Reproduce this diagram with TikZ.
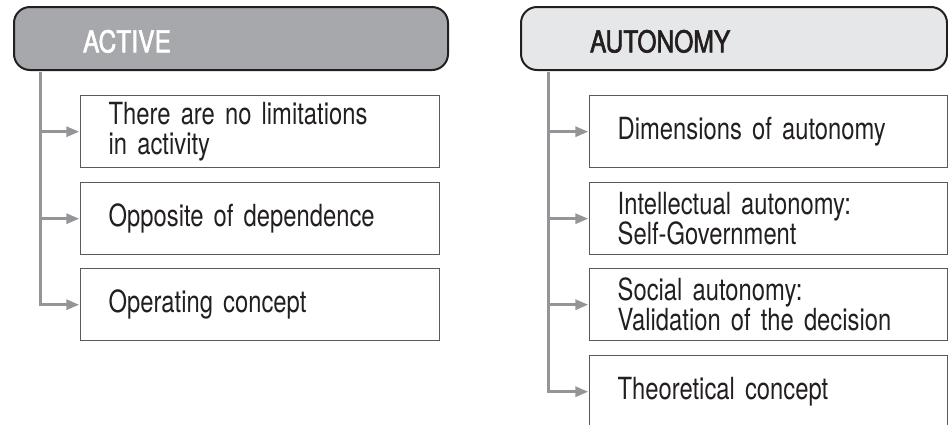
\documentclass[tikz,border=0pt]{standalone}
\usepackage{fontspec}
\setmainfont{TeX Gyre Heros}[FakeStretch=0.78]
\newfontfamily\hdrfont{TeX Gyre Heros}[FakeStretch=0.82,FakeBold=2]
\usetikzlibrary{arrows.meta}

\definecolor{hdrdark}{HTML}{A7A8AB}
\definecolor{hdrlight}{HTML}{E6E7E8}
\definecolor{linegray}{HTML}{939598}
\definecolor{boxline}{HTML}{58595B}
\definecolor{txt}{HTML}{231F20}

\tikzset{
  header/.style={draw=txt, line width=2pt, rounded corners=16pt, anchor=base west,
    inner xsep=69pt, inner ysep=0pt, text height=45.3pt, text depth=17.7pt,
    align=left, font=\hdrfont\fontsize{30}{30}\selectfont},
  item/.style={draw=boxline, line width=1.4pt, anchor=north west, align=left,
    inner xsep=28pt, inner ysep=0pt, minimum height=72pt, text=txt,
    font=\fontsize{30.5}{30}\selectfont},
  link/.style={draw=linegray, line width=3pt},
  tip/.style={link, -{Triangle[length=13pt, width=10pt]}, shorten >=0.7pt}
}

\begin{document}
\begin{tikzpicture}[x=1pt, y=-1pt]
\useasboundingbox (0,0) rectangle (948,424);
% headers
\node[header, fill=hdrdark, text=white, text width=296pt] (act) at (13,52.3) {ACTIVE};
\node[header, fill=hdrlight, text=txt, text width=288pt] (aut) at (520,52.3) {AUTONOMY};
% left column
\node[item, text width=303pt] (a1) at (80,95) {There are no limitations\\in activity};
\node[item, text width=303pt] (a2) at (80,182) {Opposite of dependence};
\node[item, text width=303pt] (a3) at (80,268) {Operating concept};
% right column
\node[item, text width=302pt] (b1) at (589,95) {Dimensions of autonomy};
\node[item, text width=302pt] (b2) at (589,182) {Intellectual autonomy:\\Self-Government};
\node[item, text width=302pt] (b3) at (589,268) {Social autonomy:\\Validation of the decision};
\node[item, text width=302pt] (b4) at (589,355) {Theoretical concept};
% connectors
\coordinate (ta) at ([xshift=27pt, yshift=-1pt]act.south west);
\coordinate (tb) at ([xshift=28pt, yshift=-1pt]aut.south west);
\draw[tip] (ta) |- (a3.west);
\draw[tip] (ta |- a1.west) -- (a1.west);
\draw[tip] (ta |- a2.west) -- (a2.west);
\draw[tip] (tb) |- (b4.west);
\draw[tip] (tb |- b1.west) -- (b1.west);
\draw[tip] (tb |- b2.west) -- (b2.west);
\draw[tip] (tb |- b3.west) -- (b3.west);
\end{tikzpicture}
\end{document}
